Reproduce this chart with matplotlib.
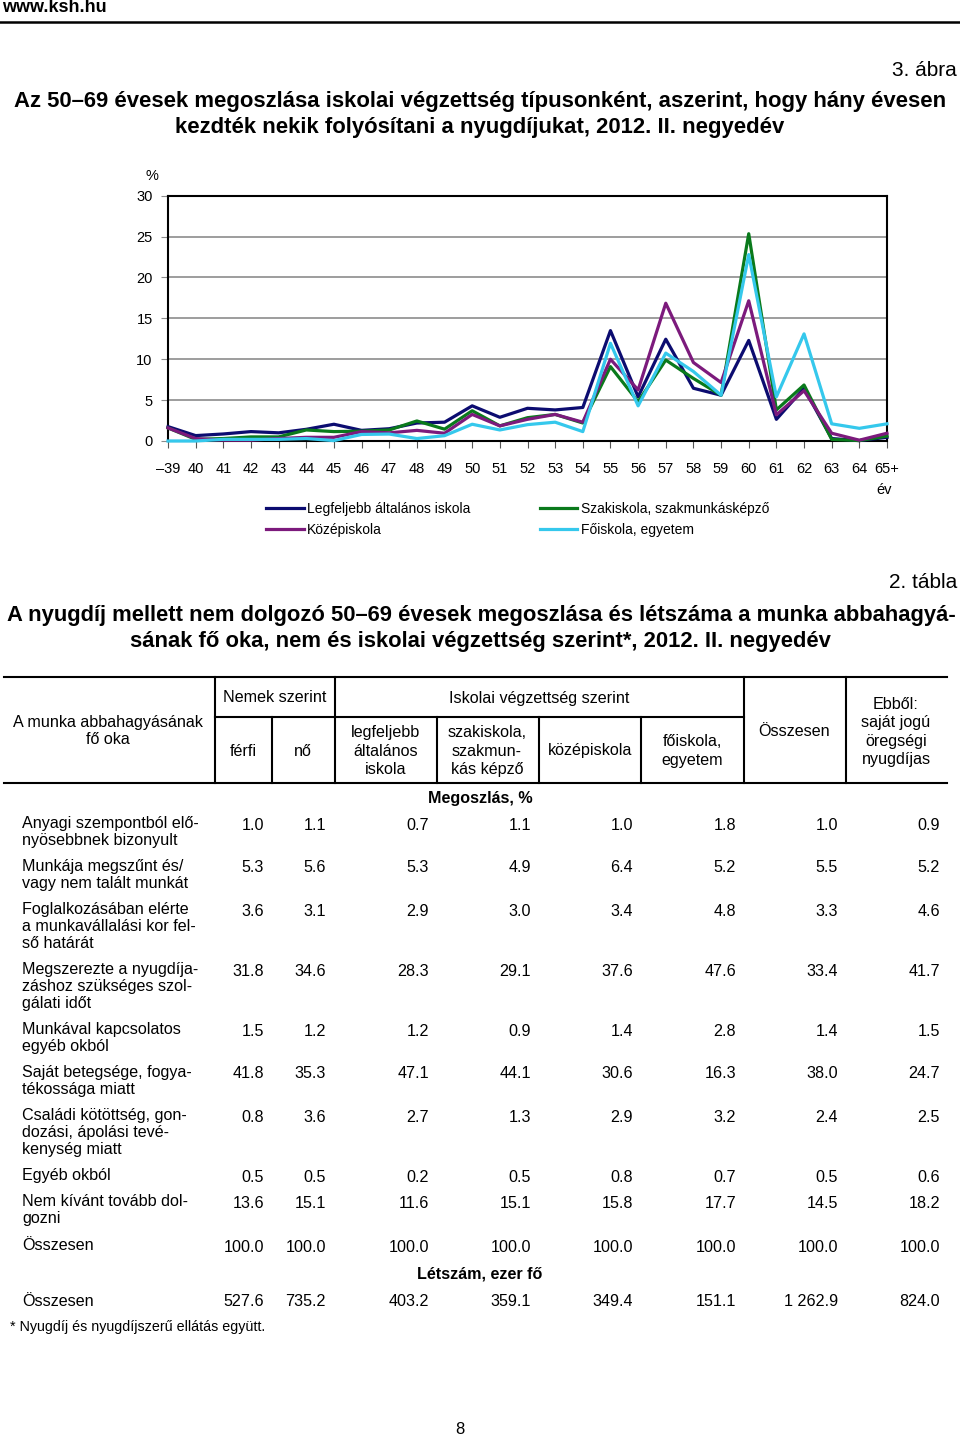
import matplotlib
matplotlib.use("Agg")
import matplotlib.pyplot as plt
from matplotlib.lines import Line2D

NARROW = ["Liberation Sans Narrow", "Liberation Sans", "DejaVu Sans"]
REGULAR = ["Liberation Sans", "DejaVu Sans"]
plt.rcParams["font.family"] = REGULAR

# --- chart data (3. ábra) ---
ages = ["–39", "40", "41", "42", "43", "44", "45", "46", "47", "48", "49", "50", "51",
        "52", "53", "54", "55", "56", "57", "58", "59", "60", "61", "62", "63", "64", "65+"]
legfeljebb = [1.76, 0.66, 0.86, 1.15, 1.0, 1.43, 2.05, 1.3, 1.5, 2.2, 2.3, 4.3, 2.9,
              4.0, 3.8, 4.1, 13.5, 5.4, 12.45, 6.45, 5.6, 12.3, 2.65, 6.45, 0.3, 0.05, 0.45]
szakiskola = [1.6, 0.2, 0.3, 0.5, 0.5, 1.35, 1.15, 1.2, 1.35, 2.45, 1.45, 3.7, 1.85,
              2.85, 3.25, 2.2, 9.1, 4.8, 9.9, 7.65, 5.6, 25.35, 3.8, 6.85, 0.2, 0.05, 0.6]
kozepiskola = [1.6, 0.3, 0.1, 0.1, 0.3, 0.45, 0.45, 1.15, 1.0, 1.3, 0.95, 3.25, 1.85,
               2.65, 3.25, 2.3, 10.0, 6.25, 16.85, 9.6, 7.15, 17.15, 3.2, 6.15, 0.95, 0.1, 0.95]
foiskola = [0.0, 0.0, 0.2, 0.2, 0.2, 0.3, 0.05, 0.8, 0.85, 0.3, 0.65, 2.05, 1.35,
            2.0, 2.3, 1.15, 11.95, 4.3, 10.75, 8.5, 5.6, 22.8, 5.4, 13.1, 2.1, 1.55, 2.1]

# --- table data (2. tábla) ---
col_heads = ["férfi", "nő", "legfeljebb\náltalános\niskola", "szakiskola,\nszakmun-\nkás képző",
             "középiskola", "főiskola,\negyetem", "Összesen", "Ebből:\nsaját jogú\nöregségi\nnyugdíjas"]
row_labels = [
    "Anyagi szempontból elő-\nnyösebbnek bizonyult",
    "Munkája megszűnt és/\nvagy nem talált munkát",
    "Foglalkozásában elérte\na munkavállalási kor fel-\nső határát",
    "Megszerezte a nyugdíja-\nzáshoz szükséges szol-\ngálati időt",
    "Munkával kapcsolatos\negyéb okból",
    "Saját betegsége, fogya-\ntékossága miatt",
    "Családi kötöttség, gon-\ndozási, ápolási tevé-\nkenység miatt",
    "Egyéb okból",
    "Nem kívánt tovább dol-\ngozni",
    "Összesen",
]
megoszlas = [
    ["1.0", "1.1", "0.7", "1.1", "1.0", "1.8", "1.0", "0.9"],
    ["5.3", "5.6", "5.3", "4.9", "6.4", "5.2", "5.5", "5.2"],
    ["3.6", "3.1", "2.9", "3.0", "3.4", "4.8", "3.3", "4.6"],
    ["31.8", "34.6", "28.3", "29.1", "37.6", "47.6", "33.4", "41.7"],
    ["1.5", "1.2", "1.2", "0.9", "1.4", "2.8", "1.4", "1.5"],
    ["41.8", "35.3", "47.1", "44.1", "30.6", "16.3", "38.0", "24.7"],
    ["0.8", "3.6", "2.7", "1.3", "2.9", "3.2", "2.4", "2.5"],
    ["0.5", "0.5", "0.2", "0.5", "0.8", "0.7", "0.5", "0.6"],
    ["13.6", "15.1", "11.6", "15.1", "15.8", "17.7", "14.5", "18.2"],
    ["100.0"] * 8,
]
letszam = ["527.6", "735.2", "403.2", "359.1", "349.4", "151.1", "1 262.9", "824.0"]

W, H = 960, 1436
fig = plt.figure(figsize=(W / 100, H / 100), dpi=100)

# overlay axes in pixel coordinates for the page text and table rules
pg = fig.add_axes([0, 0, 1, 1])
pg.set_xlim(0, W)
pg.set_ylim(H, 0)
pg.axis("off")

pg.text(2, 8, "www.ksh.hu", family=NARROW, weight="bold", fontsize=13, va="center")
pg.add_line(Line2D([0, W], [22, 22], color="black", lw=1.8))
pg.text(957, 70, "3. ábra", family=NARROW, fontsize=15, ha="right", va="center")
pg.text(480, 101, "Az 50–69 évesek megoszlása iskolai végzettség típusonként, aszerint, hogy hány évesen",
        family=NARROW, weight="bold", fontsize=15.9, ha="center", va="center")
pg.text(480, 128, "kezdték nekik folyósítani a nyugdíjukat, 2012. II. negyedév",
        family=NARROW, weight="bold", fontsize=15.9, ha="center", va="center")

# --- line chart ---
ax = fig.add_axes([168 / W, 1 - 441 / H, (887 - 168) / W, (441 - 195.7) / H])
xs = range(len(ages))
colors = {"navy": "#0c0c70", "green": "#0a7a1c", "purple": "#7c1a7c", "cyan": "#35c8ec"}
l1, = ax.plot(xs, legfeljebb, color=colors["navy"], lw=2.3, clip_on=False, zorder=3)
l3, = ax.plot(xs, szakiskola, color=colors["green"], lw=2.3, clip_on=False, zorder=3)
l2, = ax.plot(xs, kozepiskola, color=colors["purple"], lw=2.3, clip_on=False, zorder=3)
l4, = ax.plot(xs, foiskola, color=colors["cyan"], lw=2.3, clip_on=False, zorder=3)
ax.set_xlim(0, len(ages) - 1)
ax.set_ylim(0, 30)
ax.set_yticks(range(0, 31, 5))
ax.set_xticks(list(xs))
ax.set_xticklabels(ages, family=NARROW, fontsize=10.5)
ax.set_yticklabels([str(v) for v in range(0, 31, 5)], family=NARROW, fontsize=10.5)
ax.grid(axis="y", color="#8c8c8c", lw=1.2)
ax.set_axisbelow(True)
for s in ax.spines.values():
    s.set_color("black")
    s.set_linewidth(1.5)
ax.tick_params(axis="x", length=5, color="#555555", pad=10)
ax.tick_params(axis="y", length=5, color="#8c8c8c", pad=6)
pg.text(152, 176, "%", family=NARROW, fontsize=10.5, ha="center", va="center")
pg.text(884, 490, "év", family=NARROW, fontsize=10.5, ha="center", va="center")

fig.legend([l1, l2, l3, l4],
           ["Legfeljebb általános iskola", "Középiskola", "Szakiskola, szakmunkásképző", "Főiskola, egyetem"],
           ncol=2, loc="upper left", bbox_to_anchor=(266 / W, 1 - 502 / H), frameon=False,
           borderpad=0, borderaxespad=0, handlelength=2.7, handletextpad=0.25,
           columnspacing=5.0, labelspacing=0.5, prop={"family": NARROW, "size": 10})

# --- table ---
pg.text(957, 582, "2. tábla", family=NARROW, fontsize=15, ha="right", va="center")
pg.text(481, 615, "A nyugdíj mellett nem dolgozó 50–69 évesek megoszlása és létszáma a munka abbahagyá-",
        family=NARROW, weight="bold", fontsize=15.8, ha="center", va="center")
pg.text(480, 642, "sának fő oka, nem és iskolai végzettség szerint*, 2012. II. negyedév",
        family=NARROW, weight="bold", fontsize=15.8, ha="center", va="center")

rule = dict(color="black", lw=1.5)
pg.add_line(Line2D([4, 947], [677, 677], **rule))
pg.add_line(Line2D([215, 744], [717, 717], **rule))
pg.add_line(Line2D([4, 947], [783, 783], **rule))
for x in [215, 335, 744, 846]:
    pg.add_line(Line2D([x, x], [677, 783], **rule))
for x in [272, 437, 539, 641]:
    pg.add_line(Line2D([x, x], [717, 783], **rule))

fs = 11.6
pg.text(108, 731, "A munka abbahagyásának\nfő oka", fontsize=fs, ha="center", va="center", linespacing=1.2)
pg.text(275, 698, "Nemek szerint", fontsize=fs, ha="center", va="center")
pg.text(539, 698, "Iskolai végzettség szerint", fontsize=fs, ha="center", va="center")
head_x = [243, 303, 386, 487, 590, 692, 794, 896]
head_y = [751, 751, 751, 751, 751, 751, 731, 732]
for hx, hy, h in zip(head_x, head_y, col_heads):
    pg.text(hx, hy, h, fontsize=fs, ha="center", va="center", linespacing=1.3)

pg.text(480, 798, "Megoszlás, %", fontsize=fs, weight="bold", ha="center", va="center")
num_right = [264, 326, 429, 531, 633, 736, 838, 940]
row_y = [825, 868, 911, 971, 1031, 1074, 1117, 1177, 1203, 1247]
for ry, lab, vals in zip(row_y, row_labels, megoszlas):
    pg.text(22, ry - 9, lab, fontsize=fs, ha="left", va="top", linespacing=1.18)
    for nx, v in zip(num_right, vals):
        pg.text(nx, ry, v, fontsize=fs, ha="right", va="center")

pg.text(480, 1274, "Létszám, ezer fő", fontsize=fs, weight="bold", ha="center", va="center")
pg.text(22, 1301, "Összesen", fontsize=fs, ha="left", va="center")
for nx, v in zip(num_right, letszam):
    pg.text(nx, 1301, v, fontsize=fs, ha="right", va="center")
pg.text(10, 1327, "* Nyugdíj és nyugdíjszerű ellátás együtt.", fontsize=10.3, ha="left", va="center")
pg.text(460, 1429, "8", fontsize=12, ha="center", va="center")

fig.savefig("out.png", dpi=100)
